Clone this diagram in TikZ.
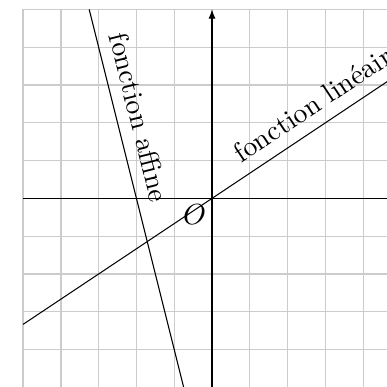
\documentclass[tikz,border=0pt]{standalone}
\usepackage{fontspec}
\usepackage{tikz}
\usetikzlibrary{arrows.meta}

\begin{document}
\begin{tikzpicture}[
  x=0.5cm, y=0.5cm,
  gridline/.style={draw=black!20, line width=0.5pt},
  axis/.style={-{Latex[length=3.5pt,width=2.7pt]}},
  etiquette/.style={above, sloped, inner sep=4.5pt, font=\fontsize{10.5}{12}\selectfont}
]
  \useasboundingbox (-5.61,-4.97) rectangle (4.63,5.25);
  \draw[gridline, step=0.5cm] (-5,-5) grid (5,5);

  % axes
  \coordinate (xmin) at (-5,0);
  \coordinate (xmax) at (5,0);
  \coordinate (ymin) at (0,-5);
  \coordinate (ymax) at (0,5);
  \draw[axis] (xmin) -- (xmax);
  \draw[axis] (ymin) -- (ymax);
  \node[below left, inner sep=2pt, font=\fontsize{10.5}{12}\selectfont] (O) at (0,0) {$O$};

  % droites
  \coordinate (affA) at (-3.25,5);
  \coordinate (affB) at (-0.75,-5);
  \coordinate (linA) at (-5,-10/3);
  \coordinate (linB) at (5,10/3);
  \draw (affA) -- node[etiquette, pos=0.3] (affLabel) {fonction affine} (affB);
  \draw (linA) -- node[etiquette, pos=0.812] (linLabel) {fonction linéaire} (linB);
\end{tikzpicture}
\end{document}
